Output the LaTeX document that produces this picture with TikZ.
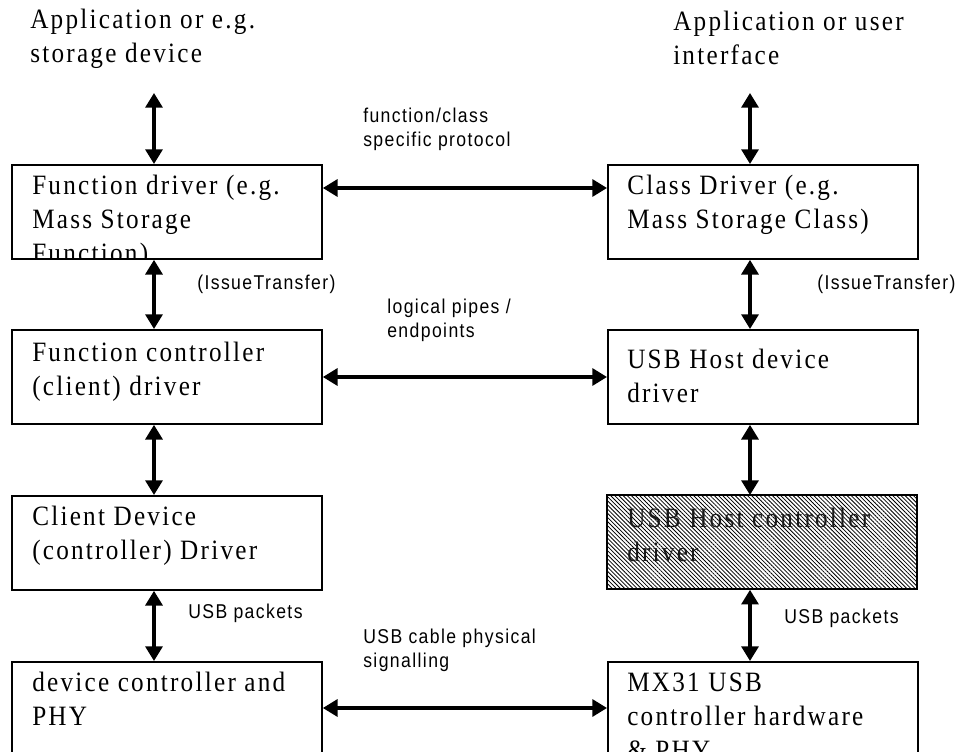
\documentclass[tikz,border=0pt]{standalone}
\usepackage{fontspec}
\usetikzlibrary{arrows.meta,patterns.meta}
\newfontfamily\boxfont{Liberation Serif}[FakeStretch=0.9,LetterSpace=8]
\newfontfamily\notefont{Liberation Sans}[FakeStretch=0.88,LetterSpace=7]
\newcommand{\txtlines}[1]{\begin{tabular}[t]{@{}l@{}}#1\end{tabular}}

\begin{document}
\begin{tikzpicture}[x=0.75pt,y=-0.75pt,
  box/.style={draw, line width=1.4pt, rectangle, inner sep=0pt,
    minimum width=232.5pt, minimum height=70.5pt, anchor=north west},
  hatched/.style={pattern={Lines[angle=-45,distance=2.2pt,line width=0.6pt]},
    pattern color=black},
  boxtext/.style={font=\boxfont\fontsize{21pt}{25.5pt}\selectfont,
    inner sep=0pt, anchor=base west},
  note/.style={font=\notefont\fontsize{15pt}{18pt}\selectfont,
    inner sep=0pt, anchor=base west},
  link/.style={line width=2.4pt,
    {Triangle[length=11pt,width=12.75pt]}-{Triangle[length=11pt,width=12.75pt]}}]

\path[fill=white, use as bounding box] (0,0) rectangle (956,752);

% layer boxes: device side on the left, host side on the right
\node[box] (L1) at (11,164) {};
\node[box] (R1) at (607,164) {};
\node[box] (L2) at (11,329) {};
\node[box] (R2) at (607,329) {};
\node[box] (L3) at (11,495) {};
\node[box, hatched] (R3) at (607,495) {};
\node[box, minimum height=105pt] (L4) at (11,661) {};
\node[box, minimum height=105pt] (R4) at (607,661) {};

% box captions
\begin{scope}
  \clip (L1.north west) rectangle (L1.south east);
  \node[boxtext] (L1t) at (32,195) {\txtlines{Function driver (e.g.\\Mass Storage\\Function)}};
\end{scope}
\node[boxtext] (R1t) at (627,195) {\txtlines{Class Driver (e.g.\\Mass Storage Class)}};
\node[boxtext] (L2t) at (32,361) {\txtlines{Function controller\\(client) driver}};
\node[boxtext] (R2t) at (627,368) {\txtlines{USB Host device\\driver}};
\node[boxtext] (L3t) at (32,525) {\txtlines{Client Device\\(controller) Driver}};
\node[boxtext, text=black!90] (R3t) at (627,527) {\txtlines{USB Host controller\\driver}};
\node[boxtext] (L4t) at (32,691) {\txtlines{device controller and\\PHY}};
\node[boxtext] (R4t) at (627,691) {\txtlines{MX31 USB\\controller hardware\\\& PHY}};

% top-level applications
\node[boxtext] (appL) at (30,29) {\txtlines{Application or e.g.\\storage device}};
\node[boxtext] (appR) at (673,31) {\txtlines{Application or user\\interface}};

% connector labels
\node[note] (proto) at (363,123) {\txtlines{function/class\\specific protocol}};
\node[note] (issueL) at (197,290) {(IssueTransfer)};
\node[note] (issueR) at (817,290) {(IssueTransfer)};
\node[note] (pipes) at (387,313) {\txtlines{logical pipes /\\endpoints}};
\node[note] (pktL) at (188,618) {USB packets};
\node[note] (pktR) at (784,623) {USB packets};
\node[note] (cable) at (363,643) {\txtlines{USB cable physical\\signalling}};

% columns and rows of the connectors
\coordinate (colL) at (154,0);
\coordinate (colR) at (750,0);
\coordinate (topL) at (154,93);
\coordinate (topR) at (750,93);
\coordinate (rowA) at (0,188);
\coordinate (rowB) at (0,377);
\coordinate (rowD) at (0,708);

% vertical stack links
\draw[link] (topL) -- (L1.north -| colL);
\draw[link] (L1.south -| colL) -- (L2.north -| colL);
\draw[link] (L2.south -| colL) -- (L3.north -| colL);
\draw[link] (L3.south -| colL) -- (L4.north -| colL);
\draw[link] (topR) -- (R1.north -| colR);
\draw[link] (R1.south -| colR) -- (R2.north -| colR);
\draw[link] (R2.south -| colR) -- (R3.north -| colR);
\draw[link] (R3.south -| colR) -- (R4.north -| colR);

% peer-to-peer links
\draw[link] (L1.east |- rowA) -- (R1.west |- rowA);
\draw[link] (L2.east |- rowB) -- (R2.west |- rowB);
\draw[link] (L4.east |- rowD) -- (R4.west |- rowD);

\end{tikzpicture}
\end{document}
